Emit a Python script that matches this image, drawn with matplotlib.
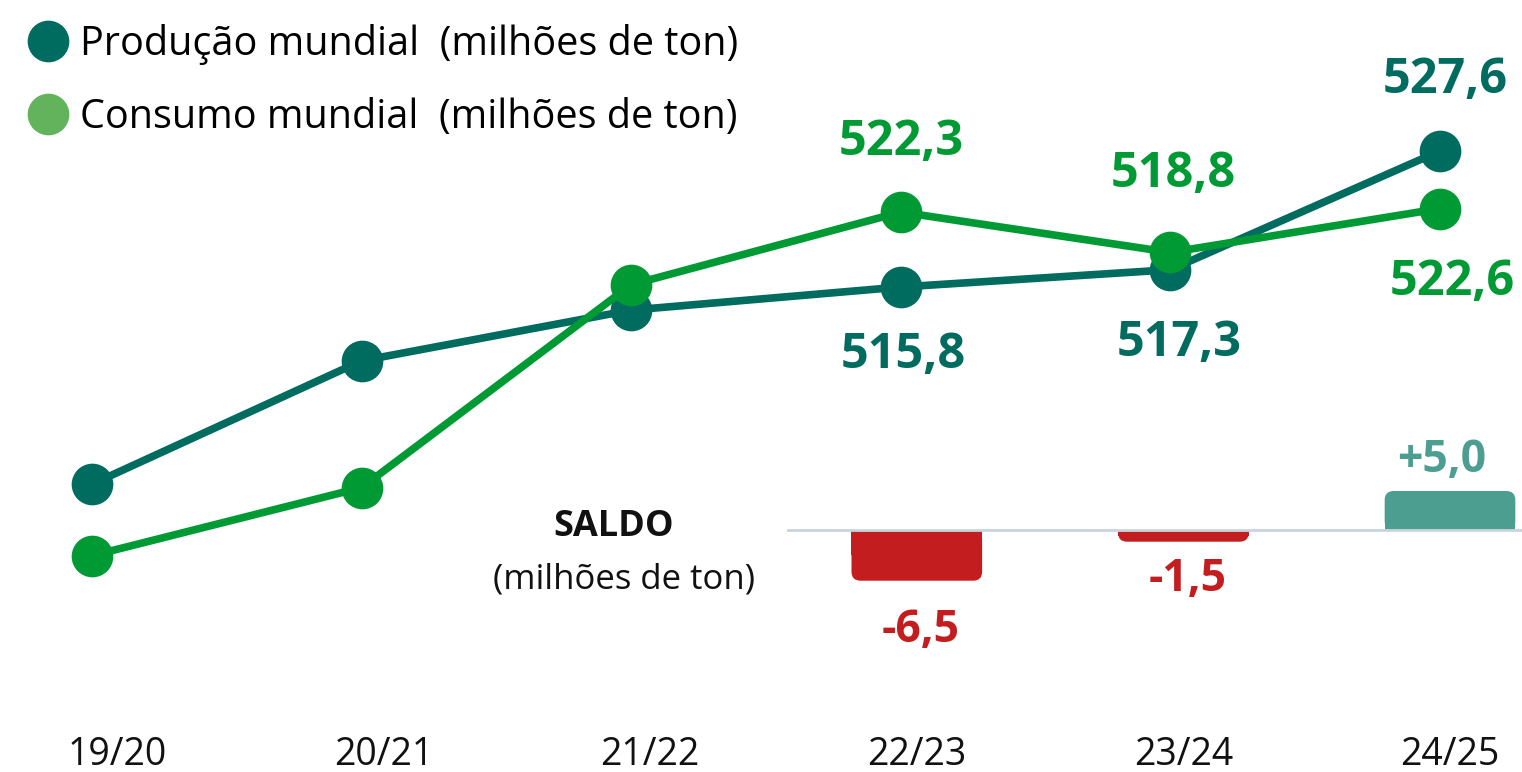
import matplotlib
matplotlib.use('Agg')
import matplotlib.pyplot as plt
from matplotlib.lines import Line2D
from matplotlib.patches import FancyBboxPatch, Rectangle

plt.rcParams['font.family'] = ['Open Sans', 'DejaVu Sans']

# data
safras = ['19/20', '20/21', '21/22', '22/23', '23/24', '24/25']
producao = [498.7, 509.4, 513.8, 515.8, 517.3, 527.6]
consumo = [492.5, 498.4, 516.0, 522.3, 518.8, 522.6]
saldo_safras = ['22/23', '23/24', '24/25']
saldo = [-6.5, -1.5, 5.0]

# labelled points (only last three seasons)
rotulos_prod = ['515,8', '517,3', '527,6']
rotulos_cons = ['522,3', '518,8', '522,6']
rotulos_saldo = ['-6,5', '-1,5', '+5,0']

cor_prod = '#006b5f'
cor_cons = '#009a35'
cor_leg_cons = '#63b35d'
cor_neg = '#c41d1f'
cor_pos = '#4b9e90'

W, H = 1522, 772
fig = plt.figure(figsize=(W / 100, H / 100), dpi=100)

# axes for the lines (x index 0..5)
ax = fig.add_axes([0, 0, 1, 1])
ax.set_xlim(-92 / 269.6, (W - 92) / 269.6)
ax.set_ylim(515.8 - 485 / 11.53, 515.8 + 287 / 11.53)
ax.axis('off')

# axes for the saldo bars and season labels
px_x, px_y = 266.6, 7.8   # pixels per data unit
ax2 = fig.add_axes([0, 0, 1, 1], zorder=-1)
ax2.set_xlim(-117 / px_x, (W - 117) / px_x)
ax2.set_ylim(-242 / px_y, 530 / px_y)
ax2.axis('off')

x = list(range(len(safras)))
ax.plot(x, producao, color=cor_prod, lw=5.5, marker='o', ms=29, zorder=3)
ax.plot(x, consumo, color=cor_cons, lw=5.5, marker='o', ms=29, zorder=4)

# value labels
off_prod = [(2, -49), (6, -53), (4, 51)]
off_cons = [(0, 50), (2, 56), (9, -53)]
for k, (lab, o) in enumerate(zip(rotulos_prod, off_prod)):
    i = 3 + k
    ax.annotate(lab, (i, producao[i]), xytext=o, textcoords='offset points',
                ha='center', va='center', fontsize=35, fontweight='bold', color=cor_prod)
for k, (lab, o) in enumerate(zip(rotulos_cons, off_cons)):
    i = 3 + k
    ax.annotate(lab, (i, consumo[i]), xytext=o, textcoords='offset points',
                ha='center', va='center', fontsize=35, fontweight='bold', color=cor_cons)

# saldo bars, rounded at the outer end
xb = [safras.index(s) for s in saldo_safras]
cores = [cor_neg if v < 0 else cor_pos for v in saldo]
bw = 0.49
r = 9 / px_x
for xi, v, c in zip(xb, saldo, cores):
    y0, h = min(0, v), abs(v)
    ax2.add_patch(FancyBboxPatch((xi - bw / 2 + r, y0 + r * px_x / px_y),
                                 bw - 2 * r, h - 2 * r * px_x / px_y,
                                 boxstyle=f'round,pad={r},rounding_size={r}',
                                 mutation_aspect=px_x / px_y,
                                 fc=c, ec='none', zorder=2))
    # square off the baseline side
    ax2.add_patch(Rectangle((xi - bw / 2, v / 2 if v < 0 else 0), bw, h / 2,
                            fc=c, ec='none', zorder=2))
ax2.axhline(0, xmin=788 / W, xmax=1, color='#c9d4de', lw=2, zorder=3)
off_saldo = [(3, -36), (3, -27), (-6, 22)]
for xi, v, lab, c, o in zip(xb, saldo, rotulos_saldo, cores, off_saldo):
    ax2.annotate(lab, (xi, v), xytext=o, textcoords='offset points',
                 ha='center', va='center', fontsize=32, fontweight='bold', color=c)

ax2.text(614 / W, 1 - 527 / H, 'SALDO', transform=fig.transFigure,
         ha='center', va='center', fontsize=26, fontweight='bold', color='#111111')
ax2.text(624 / W, 1 - 580 / H, '(milhões de ton)', transform=fig.transFigure,
         ha='center', va='center', fontsize=25, color='#111111')

# season labels
for i, s in enumerate(safras):
    ax2.text(i, 1 - 755 / H, s, transform=ax2.get_xaxis_transform(),
             ha='center', va='center', fontsize=27, color='#111111')

# legend
handles = [Line2D([], [], ls='none', marker='o', ms=29, color=cor_prod),
           Line2D([], [], ls='none', marker='o', ms=29, color=cor_leg_cons)]
labels = ['Produção mundial  (milhões de ton)', 'Consumo mundial  (milhões de ton)']
fig.legend(handles, labels, loc='upper left', bbox_to_anchor=(29 / W, 1 - 24 / H),
           frameon=False, fontsize=28.5, handlelength=0.95, handletextpad=0.33,
           labelspacing=0.82, borderaxespad=0, borderpad=0)

fig.savefig('out.png', dpi=100)
